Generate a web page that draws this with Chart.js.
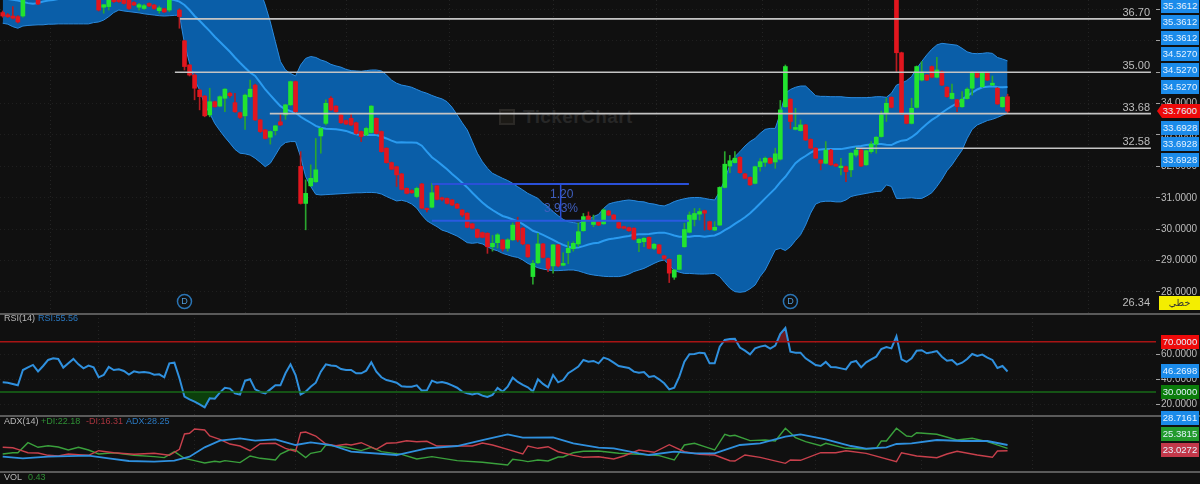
<!DOCTYPE html>
<html lang="en">
<head>
<meta charset="UTF-8">
<title>TickerChart</title>
<script src="https://cdn.jsdelivr.net/npm/chart.js"></script>
<style>
    html, body { margin: 0; padding: 0; background: #101010; }
    #wrap { position: relative; width: 1200px; height: 484px; overflow: hidden; background: #101010; font-family: "Liberation Sans", sans-serif; }
    canvas { position: absolute; left: 0; }
    .sep { position: absolute; left: 0; width: 1200px; height: 2px; background: #5a5a5a; }
    .tag { position: absolute; left: 1161px; width: 38px; height: 14px; line-height: 14px; text-align: center; font-size: 9.5px; color: #e4f2ff; background: #1b8bea; }
    .tag.green { background: #0b7d0b; }
    .tag.dgreen { background: #229a2c; }
    .tag.red { background: #ee0a0a; }
    .tag.crim { background: #c2384a; }
    .lvl { position: absolute; left: 1116px; width: 34px; text-align: right; font-size: 11px; color: #bdbdbd; line-height: 13px; }
    .hd { position: absolute; font-size: 9px; line-height: 10px; color: #b8b8b8; white-space: nowrap; }
    .wm { position: absolute; left: 523px; top: 106px; font-size: 19px; font-weight: bold; color: #272727; letter-spacing: 0.4px; }
    .wmicon { position: absolute; left: 499px; top: 109px; width: 12px; height: 12px; border: 2px solid #2b2926; background: #1c1a16; }
    .fib { position: absolute; font-size: 12px; color: #3f5fc0; line-height: 14px; }
</style>
</head>
<body>
<div id="wrap">
    <div class="wmicon"></div>
    <div class="wm">TickerChart</div>
    <canvas id="mainChart" width="1200" height="313" style="top:0"></canvas>
    <canvas id="rsiChart" width="1200" height="101" style="top:314px"></canvas>
    <canvas id="adxChart" width="1200" height="55" style="top:416px"></canvas>
    <div class="sep" style="top:313px"></div>
    <div class="sep" style="top:415px"></div>
    <div class="sep" style="top:471px"></div>

    <div class="fib" style="left:550px;top:187px">1.20</div>
    <div class="fib" style="left:544px;top:201px">3.93%</div>

    <div class="lvl" style="top:6px">36.70</div>
    <div class="lvl" style="top:59px">35.00</div>
    <div class="lvl" style="top:101px">33.68</div>
    <div class="lvl" style="top:135px">32.58</div>
    <div class="lvl" style="top:296px">26.34</div>

    <div class="tag" style="top:-1px">35.3612</div>
    <div class="tag" style="top:15px">35.3612</div>
    <div class="tag" style="top:31px">35.3612</div>
    <div class="tag" style="top:47px">34.5270</div>
    <div class="tag" style="top:63px">34.5270</div>
    <div class="tag" style="top:80px">34.5270</div>
    <div class="tag red" style="top:104px;left:1157px;width:43px;clip-path:polygon(5px 0,100% 0,100% 100%,5px 100%,0 50%)">&nbsp;33.7600</div>
    <div class="tag" style="top:121px">33.6928</div>
    <div class="tag" style="top:137px">33.6928</div>
    <div class="tag" style="top:153px">33.6928</div>
    <div class="tag" style="top:296px;left:1159px;width:41px;background:#f4ee00;color:#333;font-family:'DejaVu Sans'">خطي</div>
    <div class="tag red" style="top:335px">70.0000</div>
    <div class="tag" style="top:364px">46.2698</div>
    <div class="tag green" style="top:385px">30.0000</div>
    <div class="tag" style="top:411px">28.7161</div>
    <div class="tag dgreen" style="top:427px">25.3815</div>
    <div class="tag crim" style="top:443px">23.0272</div>

    <div class="hd" style="left:4px;top:313px">RSI(14)</div>
    <div class="hd" style="left:38px;top:313px;color:#2a78c0">RSI:55.56</div>
    <div class="hd" style="left:4px;top:416px">ADX(14)</div>
    <div class="hd" style="left:41px;top:416px;color:#2f8f35">+DI:22.18</div>
    <div class="hd" style="left:86px;top:416px;color:#a8343e">-DI:16.31</div>
    <div class="hd" style="left:126px;top:416px;color:#2a78c0">ADX:28.25</div>
    <div class="hd" style="left:4px;top:472px">VOL</div>
    <div class="hd" style="left:28px;top:472px;color:#2f8f35">0.43</div>
</div>

<script>
    const opens = [
        36.90,36.83,36.79,36.77,36.79,37.50,37.60,37.40,37.60,37.70,
        37.80,37.70,37.90,37.80,37.70,37.80,37.60,37.70,37.60,37.35,
        37.07,37.09,37.35,37.34,37.34,37.33,37.22,37.07,37.03,37.19,
        37.14,36.96,37.02,36.98,37.45,36.98,36.00,35.23,34.91,34.43,
        34.24,33.64,34.06,33.92,34.17,34.33,34.03,33.71,33.61,34.22,
        34.59,33.48,33.16,32.93,33.14,33.42,33.64,33.96,34.70,32.00,
        30.82,31.38,31.51,32.97,33.37,34.17,33.92,33.64,33.46,33.53,
        33.39,33.11,33.00,33.08,33.53,33.11,32.58,32.12,31.99,31.76,
        31.30,31.23,31.04,31.44,30.66,30.70,31.38,31.00,30.98,30.93,
        30.80,30.61,30.51,30.17,29.99,29.89,29.87,29.44,29.57,29.66,
        29.39,29.66,30.24,30.03,29.50,28.49,28.93,29.53,29.07,28.83,
        29.50,28.85,29.25,29.38,29.53,29.95,30.42,30.15,30.24,30.17,
        30.58,30.45,30.21,30.08,30.05,30.03,29.57,29.60,29.74,29.39,
        29.50,29.15,29.04,28.47,28.72,29.44,29.90,30.31,30.48,30.59,
        30.24,29.97,30.13,31.33,32.01,32.12,32.29,31.76,31.65,31.46,
        31.99,32.13,32.26,32.14,32.23,33.90,34.14,33.18,33.14,33.32,
        32.86,32.58,32.20,32.10,32.52,32.07,31.96,31.99,31.89,32.36,
        32.52,32.05,32.47,32.71,32.95,33.69,34.20,37.40,35.62,33.64,
        33.37,33.88,34.75,34.91,35.18,34.84,35.02,34.52,34.16,34.12,
        33.90,34.16,34.49,34.99,34.54,34.99,34.59,34.49,33.90,34.22
    ];
    const highs = [
        36.95,36.87,37.09,36.80,37.40,37.80,37.85,37.50,37.85,37.80,
        37.90,37.85,38.00,37.85,37.85,37.90,37.75,37.80,37.70,37.40,
        37.16,37.40,37.40,37.40,37.40,37.40,37.25,37.19,37.16,37.21,
        37.16,37.11,37.04,37.40,37.70,37.02,36.02,35.25,34.95,34.46,
        34.26,34.49,34.08,34.25,34.48,34.36,34.33,33.73,34.30,34.75,
        34.62,33.50,33.18,33.13,33.31,33.70,33.98,34.72,34.72,32.47,
        31.57,32.05,32.89,33.23,34.12,34.22,33.94,33.66,33.48,33.69,
        33.41,33.13,33.25,33.94,33.55,33.13,32.60,32.14,32.01,31.78,
        31.32,31.26,31.34,31.46,30.68,31.46,31.40,31.02,31.00,30.95,
        30.82,30.63,30.53,30.19,30.01,29.91,29.89,29.80,29.86,29.68,
        29.70,30.20,30.38,30.06,29.52,29.00,29.87,29.55,29.09,29.52,
        29.52,29.25,29.60,29.60,30.20,30.50,30.55,30.45,30.26,30.65,
        30.60,30.47,30.23,30.10,30.07,30.05,29.70,29.73,29.76,29.55,
        29.52,29.17,29.06,28.72,29.19,30.19,30.55,30.66,30.66,30.61,
        30.26,30.24,31.35,32.47,32.35,32.47,32.31,31.78,31.67,32.01,
        32.25,32.30,32.28,32.58,34.10,35.23,34.16,33.85,33.48,33.34,
        32.88,32.60,32.22,32.79,32.54,32.09,32.26,32.01,32.44,32.60,
        32.54,32.52,32.79,32.95,33.76,34.17,34.22,37.50,35.64,33.66,
        34.17,35.20,35.34,34.93,35.20,35.47,35.04,34.54,34.62,34.14,
        34.38,34.50,35.02,35.01,35.01,35.01,34.88,34.51,34.22,34.30
    ];
    const lows = [
        36.75,36.74,36.69,36.57,36.75,37.45,37.55,37.15,37.55,37.55,
        37.75,37.65,37.85,37.60,37.65,37.75,37.55,37.65,37.45,36.95,
        36.88,36.98,37.22,37.22,37.17,37.00,37.12,36.98,37.00,37.09,
        37.00,36.88,36.90,36.93,37.40,36.40,35.07,34.88,34.12,33.80,
        33.58,33.58,33.88,33.90,33.74,34.20,33.72,33.52,33.18,34.20,
        33.46,33.08,32.87,32.71,33.00,33.30,33.50,33.94,33.72,30.80,
        29.98,31.36,31.49,32.42,33.32,33.78,33.72,33.37,33.33,33.30,
        33.03,32.79,32.98,33.06,33.03,32.45,32.10,31.89,31.36,31.25,
        31.12,31.14,31.00,30.65,30.55,30.68,30.93,30.90,30.80,30.75,
        30.65,30.40,30.04,30.00,29.72,29.72,29.23,29.30,29.40,29.30,
        29.30,29.64,29.60,29.50,29.10,28.25,28.90,29.08,28.65,28.60,
        28.80,28.83,28.90,29.30,29.45,29.93,30.25,30.08,30.11,30.15,
        30.43,30.29,30.02,30.00,29.93,29.66,29.28,29.44,29.37,29.35,
        29.21,29.02,28.30,28.40,28.70,29.42,29.88,30.10,30.29,29.97,
        29.97,29.95,30.11,31.31,31.80,32.10,31.78,31.60,31.39,31.44,
        31.85,32.00,32.08,31.94,32.20,33.88,33.20,33.16,33.12,32.82,
        32.56,32.24,31.89,32.08,32.03,31.99,31.73,31.51,31.67,32.30,
        31.99,32.03,32.42,32.42,32.93,33.43,33.86,35.02,33.65,33.35,
        33.35,33.86,34.72,34.73,34.82,34.82,34.57,34.20,34.14,33.74,
        33.88,34.14,34.27,34.82,34.52,34.73,34.57,33.97,33.88,33.69
    ];
    const closes = [
        36.79,36.77,36.72,36.60,37.35,37.70,37.75,37.17,37.75,37.60,
        37.85,37.80,37.95,37.65,37.80,37.85,37.70,37.75,37.50,36.98,
        37.15,37.35,37.25,37.25,37.19,37.03,37.14,37.15,37.12,37.11,
        37.03,37.05,36.92,37.35,37.60,36.77,35.18,34.91,34.49,34.22,
        33.61,34.06,33.90,34.22,34.46,34.25,33.74,33.56,34.27,34.46,
        33.48,33.11,32.89,33.11,33.29,33.32,33.96,34.70,33.74,30.82,
        31.14,31.62,31.89,33.21,34.01,33.80,33.74,33.39,33.35,33.32,
        33.05,32.95,33.21,33.92,33.05,32.47,32.12,31.91,31.73,31.27,
        31.14,31.16,31.30,30.67,30.62,31.16,30.95,30.95,30.82,30.77,
        30.67,30.45,30.06,30.03,29.74,29.74,29.44,29.55,29.82,29.37,
        29.66,30.13,29.66,29.53,29.12,28.91,29.53,29.10,28.75,29.50,
        28.83,28.91,29.39,29.55,29.92,30.40,30.27,30.24,30.13,30.61,
        30.45,30.31,30.04,30.03,29.95,29.68,29.68,29.71,29.39,29.52,
        29.23,29.07,28.60,28.70,29.17,29.99,30.45,30.50,30.56,30.51,
        29.99,30.06,31.33,32.07,32.18,32.26,31.80,31.62,31.41,31.99,
        32.15,32.26,32.10,32.40,33.80,35.18,33.43,33.24,33.32,32.84,
        32.58,32.26,32.10,32.52,32.05,32.01,32.01,31.83,32.42,32.52,
        32.01,32.50,32.71,32.93,33.64,34.01,33.88,35.62,33.67,33.37,
        33.85,35.18,35.00,34.75,34.84,35.07,34.59,34.22,34.33,33.90,
        34.14,34.46,34.99,34.84,34.99,34.75,34.65,33.99,34.20,33.76
    ];

    const bandUpper = [
        38.9,38.9,38.8,38.9,38.9,38.8,38.8,38.9,38.9,38.8,
        38.8,38.9,38.9,38.8,38.9,38.9,38.9,38.8,38.9,38.9,
        38.9,38.8,38.8,38.8,38.9,38.9,38.9,38.8,38.8,38.9,
        38.9,38.8,38.9,38.9,38.9,38.8,38.8,38.8,38.8,38.8,
        38.8,38.8,38.8,38.8,38.7,38.7,38.7,38.7,38.6,38.3,
        38.0,37.6,37.14,36.60,35.97,35.34,35.07,34.96,34.88,35.23,
        35.44,35.50,35.47,35.39,35.34,35.25,35.20,35.16,35.09,35.05,
        35.04,35.03,35.05,35.07,35.07,35.04,34.91,34.75,34.65,34.59,
        34.56,34.52,34.45,34.38,34.33,34.26,34.20,34.15,34.06,33.88,
        33.64,33.39,33.16,32.79,32.42,32.15,31.94,31.78,31.70,31.62,
        31.55,31.46,31.35,31.25,31.14,31.06,30.98,30.82,30.72,30.56,
        30.43,30.31,30.24,30.21,30.19,30.24,30.31,30.40,30.47,30.66,
        30.80,30.85,30.88,30.91,30.93,30.91,30.88,30.87,30.82,30.80,
        30.76,30.74,30.80,30.88,30.93,30.97,31.00,31.01,31.01,30.98,
        30.95,30.93,31.20,31.57,32.05,32.31,32.47,32.65,32.79,32.89,
        33.05,33.18,33.21,33.21,33.69,34.33,34.45,34.52,34.56,34.56,
        34.41,34.25,34.23,34.23,34.22,34.22,34.22,34.20,34.19,34.19,
        34.19,34.19,34.20,34.22,34.22,34.20,34.33,34.59,34.65,34.73,
        34.86,35.12,35.34,35.55,35.73,35.87,35.92,35.90,35.88,35.86,
        35.76,35.65,35.60,35.59,35.60,35.62,35.60,35.47,35.42,35.3612
    ];
    const bandMiddle = [
        37.33,37.33,37.31,37.28,37.24,37.20,37.18,37.20,37.25,37.28,
        37.30,37.33,37.38,37.42,37.46,37.50,37.55,37.60,37.65,37.70,
        37.72,37.75,37.75,37.74,37.72,37.70,37.65,37.60,37.55,37.50,
        37.45,37.40,37.36,37.33,37.30,37.25,37.14,36.98,36.79,36.64,
        36.47,36.31,36.13,35.97,35.81,35.65,35.47,35.30,35.14,34.99,
        34.88,34.67,34.45,34.27,34.09,33.92,33.82,33.76,33.71,33.58,
        33.48,33.39,33.29,33.23,33.20,33.19,33.18,33.16,33.13,33.07,
        33.02,33.00,33.00,33.01,33.00,32.95,32.89,32.82,32.76,32.77,
        32.76,32.76,32.75,32.66,32.47,32.29,32.17,32.04,31.91,31.76,
        31.62,31.48,31.33,31.16,31.00,30.85,30.72,30.61,30.51,30.42,
        30.37,30.31,30.25,30.16,30.06,29.95,29.89,29.82,29.74,29.66,
        29.57,29.50,29.44,29.41,29.42,29.46,29.51,29.55,29.57,29.63,
        29.68,29.70,29.73,29.76,29.78,29.82,29.84,29.84,29.85,29.87,
        29.89,29.89,29.85,29.80,29.76,29.76,29.76,29.78,29.78,29.76,
        29.78,29.80,29.87,29.97,30.06,30.17,30.27,30.38,30.51,30.66,
        30.82,30.98,31.14,31.30,31.50,31.67,31.89,32.10,32.23,32.33,
        32.44,32.52,32.54,32.55,32.55,32.55,32.55,32.58,32.61,32.63,
        32.65,32.68,32.70,32.71,32.71,32.69,32.68,32.76,32.82,32.84,
        32.93,33.05,33.21,33.35,33.48,33.58,33.71,33.82,33.92,34.01,
        34.14,34.24,34.35,34.45,34.52,34.54,34.55,34.53,34.52,34.527
    ];
    const bandLower = [
        36.56,36.53,36.45,36.40,36.47,36.49,36.50,36.51,36.51,36.53,
        36.53,36.54,36.54,36.54,36.54,36.54,36.54,36.54,36.58,36.60,
        36.66,36.77,36.90,36.98,36.95,36.93,36.91,36.89,36.86,36.84,
        36.82,36.80,36.79,36.80,36.81,36.82,35.92,35.28,34.75,34.43,
        33.96,33.69,33.37,33.14,32.93,32.74,32.54,32.42,32.40,32.36,
        32.26,32.13,31.99,32.10,32.36,32.63,32.76,32.79,32.79,32.31,
        31.67,31.36,31.11,31.09,31.10,31.11,31.12,31.13,31.14,31.15,
        31.16,31.16,31.17,31.17,31.16,31.12,31.04,30.97,30.90,30.92,
        30.88,30.80,30.67,30.45,30.27,30.17,30.08,29.97,29.92,29.85,
        29.78,29.68,29.57,29.55,29.57,29.53,29.44,29.36,29.31,29.23,
        29.18,29.13,29.10,29.02,28.91,28.84,28.77,28.73,28.70,28.68,
        28.68,28.69,28.70,28.70,28.67,28.62,28.57,28.54,28.52,28.50,
        28.49,28.49,28.49,28.52,28.57,28.65,28.70,28.75,28.83,28.91,
        28.98,29.02,28.86,28.68,28.63,28.59,28.59,28.58,28.57,28.57,
        28.58,28.59,28.49,28.30,28.12,28.01,27.99,28.01,28.10,28.22,
        28.49,28.70,29.02,29.34,29.39,29.32,29.44,29.64,29.82,30.13,
        30.51,30.80,30.87,30.89,30.89,30.87,30.87,30.93,31.04,31.08,
        31.11,31.14,31.17,31.20,31.21,31.41,31.36,30.98,30.98,30.99,
        31.00,30.98,30.98,31.06,31.16,31.36,31.59,31.86,32.05,32.29,
        32.52,32.89,33.18,33.32,33.39,33.46,33.50,33.56,33.63,33.6928
    ];

    const rsiValues = [
        37.7,37.4,36.4,35.3,47.5,49.6,51.5,46.4,50.7,55.5,
        56.8,56.3,49.4,52.8,56.3,52,48.8,51,49.6,41.7,
        43.5,49.9,47.5,48,46.7,43.8,46.4,45.6,45.9,45.4,
        43.8,44.1,41.7,52.8,53.3,40.9,26.3,24.2,22.3,20.2,
        17.8,25,24.7,29.5,33.4,32.7,28.9,27.9,39,40.1,
        32.1,30,28.9,32.1,35.3,35.3,44.9,52,43.5,28.1,
        30.3,34.2,37.4,46.2,52,51,50.7,48.3,47.5,47.5,
        44.9,44.9,47,53.6,46.2,41.7,39.5,38.5,37.4,34.5,
        34.2,34.2,35.3,31.1,31.3,39,37.4,38,36.9,35.3,
        33.4,30.3,28.9,28.1,28.9,27.1,26,27.6,33.2,30.3,
        34.2,41.4,38,35.6,33.7,30.3,40.1,36.4,33.7,43.5,
        37.7,39.5,44.9,47.5,50.2,55.5,54.1,54.7,52.8,
        57.3,56,53.3,50.7,49.9,49.1,46.2,45.4,45.9,41.9,
        42.7,40.1,36.9,32.1,33.4,42.2,54.1,60,60.2,61.3,
        60.8,52.8,52.8,66.1,71.4,72.2,72.4,65.3,62.9,60,
        64.7,66.1,66.9,64.5,66.9,76.2,80.9,62.1,61.3,61.3,
        56.8,54.1,51.5,50.7,53.9,49.9,49.6,48.8,48,53.6,
        54.7,49.6,53.6,56,58.1,64.2,65.8,64.7,74.3,56,
        53.9,56.8,62.9,63.2,60.8,61.6,62.6,58.1,54.9,55.5,
        51.8,53.3,56.3,60.2,58.6,59.7,57.3,55.5,49.1,50.7,46.27
    ];

    // DI / ADX lines were read at their turning points, so each has its own candle numbers
    const plusDiAt = [0,2,3,5,7,9,11,13,15,17,19,22,26,30,32,34,36,38,40,42,43,44,47,49,51,54,55,57,58,60,61,63,64,68,71,73,75,79,82,85,90,95,100,101,103,104,106,108,110,111,113,115,118,122,126,130,133,135,137,139,141,143,144,145,148,151,153,155,157,159,162,163,167,171,173,174,175,177,179,180,181,185,189,192,195,199];
    const plusDi = [19.7,21,21,31,26.4,28,26.7,23.7,26.4,23.7,19.7,21,18.4,17.1,16.1,22.1,15.4,13.1,10.7,12.4,11.7,13.1,11.1,17.7,15.4,13.7,19.7,24.4,23.7,16.1,20.4,22.4,28.7,26.4,23.1,26.4,22.1,19.4,14.7,17.1,13.1,11.4,8.7,14.4,13.1,12.1,13.7,12.7,16.7,16.7,21,22.4,22.7,20.4,19.4,18.1,13.7,28.7,30.4,27.1,23.7,39.4,37.7,38.4,33.1,33.7,32.7,45.4,36.1,32.1,28,30.4,25.4,24.7,25.4,32.7,32.7,45.4,37.7,37.1,41,39.4,33.7,35.4,32.1,25.3815];
    const minusDiAt = [0,2,3,5,7,9,11,13,15,17,19,22,26,30,33,35,36,37,38,40,41,43,45,47,49,51,54,56,58,59,60,62,64,66,68,69,71,74,76,78,80,82,84,86,90,93,95,97,100,103,104,106,108,110,113,115,118,121,123,126,129,132,135,138,141,144,145,147,150,155,156,158,162,165,167,171,177,178,181,185,187,189,193,196,197,199];
    const minusDi = [26.4,26,24.4,21,20.7,18.4,17.7,19.7,19,18.4,23,21,19.4,20.4,18.4,24.4,39.7,40.4,44.7,43.7,37.7,34.4,29.7,27.7,23,30,30.4,25.4,22.4,41,41.7,37.7,29.7,28,29.4,28.7,31,24.4,30.4,31,33,32,32.4,27.7,27.7,27.7,30.7,28.7,24.4,19.7,27.7,25.4,27,22,18.4,16.4,17,14.7,17.7,23.7,21.4,29,22,19.4,18.7,13,12.7,18.7,16.4,10.4,13.7,13.4,21,21,23,20.4,12,21,17.7,16,19.7,22.4,18.7,16.4,22.7,23.0272];
    const adxAt = [0,4,9,17,21,25,30,34,37,40,43,47,50,54,58,61,65,69,78,84,90,95,100,103,109,113,118,121,126,128,133,137,141,146,150,155,158,163,168,171,175,177,180,185,190,195,199];
    const adxLine = [17,15.4,17,18,15.4,12.7,12,13,17,26.4,33,35.4,33,34.4,28.7,31.4,28.7,22,18.7,25.4,27.7,33.7,39.4,36,36.4,30.4,26,25.4,20.4,18.7,22,20.4,20.4,28.7,30.4,37,39.4,34.4,27.7,25,26.4,29.7,30.4,33.7,32.7,32.7,28.7161];

    const priceTicks = [28,29,30,31,32,33,34,35,36,37];
    const rsiTicks = [20,40,60];
    const gridCandles = [19,38,58,78,99,119,140,161,182,204];
    const dividendCandles = [36,156];
    const candleNumbers = opens.map((o, i) => i);

    const BODY_UP = '#22e430', BODY_DOWN = '#e2161e', WICK_UP = '#2aa52e', WICK_DOWN = '#b51c22';
    const X_MIN = -0.535, X_MAX = 228.4;

    function pairs(xs, ys) {
        return xs.map((x, i) => ({ x: x, y: ys[i] }));
    }
    function hLine(from, to, value, color, width, order) {
        return { type: 'line', data: [{ x: from, y: value }, { x: to, y: value }], borderColor: color, borderWidth: width, pointRadius: 0, order: order };
    }
    function sharedX() {
        return {
            type: 'linear', min: X_MIN, max: X_MAX, offset: false,
            afterBuildTicks(axis) { axis.ticks = gridCandles.map(v => ({ value: v })); },
            afterFit(axis) { axis.height = 0; axis.paddingLeft = 0; axis.paddingRight = 0; },
            ticks: { display: false },
            border: { display: false, dash: [1, 3] },
            grid: { color: '#242424', drawTicks: false }
        };
    }
    function priceY(min, max, ticks, showDash) {
        return {
            position: 'right', min: min, max: max,
            afterBuildTicks(axis) { axis.ticks = ticks.map(v => ({ value: v })); },
            // chart.js reserves half a label at each end, the panes here run edge to edge
            afterFit(axis) { axis.width = 44; axis.paddingTop = 0; axis.paddingBottom = 0; },
            ticks: { color: '#bcbcbc', padding: 1, font: { family: 'Liberation Sans', size: 10 }, callback: v => v.toFixed(4), autoSkip: false },
            border: { display: false, dash: [1, 3] },
            grid: { color: '#1f1f1f', tickColor: '#a0a0a0', tickLength: 4, tickBorderDash: [], drawTicks: showDash }
        };
    }
    const baseOptions = {
        responsive: false,
        animation: false,
        layout: { padding: 0 },
        plugins: { legend: { display: false }, tooltip: { enabled: false } }
    };

    const dividendMarks = {
        id: 'dividendMarks',
        afterDatasetsDraw(chart) {
            const c = chart.ctx, y = 301.5;
            dividendCandles.forEach(i => {
                const x = chart.scales.x.getPixelForValue(i);
                c.save();
                c.strokeStyle = '#2a74b4';
                c.lineWidth = 1.5;
                c.beginPath();
                c.arc(x, y, 7, 0, Math.PI * 2);
                c.stroke();
                c.fillStyle = '#4f9ad8';
                c.font = '9px "Liberation Sans"';
                c.textAlign = 'center';
                c.textBaseline = 'middle';
                c.fillText('D', x, y + 0.5);
                c.restore();
            });
        }
    };

    const upBar = (o, i) => closes[i] >= o;

    new Chart(document.getElementById('mainChart'), {
        type: 'bar',
        plugins: [dividendMarks],
        data: {
            labels: candleNumbers,
            datasets: [
                hLine(35.1, 227.4, 36.70, '#c4c4c4', 1.6, 0),
                hLine(34.1, 227.4, 35.00, '#c4c4c4', 1.6, 0),
                hLine(52.9, 227.4, 33.68, '#c4c4c4', 1.6, 0),
                hLine(169, 227.4, 32.58, '#c4c4c4', 1.6, 0),
                hLine(85, 135.9, 31.44, '#2a50d8', 2, 0),
                hLine(85, 135.9, 30.27, '#2a5ae0', 2, 0),
                { type: 'line', data: [{ x: 110.5, y: 31.44 }, { x: 110.5, y: 30.27 }], borderColor: '#2a50d8', borderWidth: 1.5, pointRadius: 0, order: 0 },
                { label: 'body', data: opens.map((o, i) => [o, closes[i]]), backgroundColor: opens.map((o, i) => upBar(o, i) ? BODY_UP : BODY_DOWN), barThickness: 4, grouped: false, order: 1 },
                { label: 'wick', data: lows.map((l, i) => [l, highs[i]]), backgroundColor: opens.map((o, i) => upBar(o, i) ? WICK_UP : WICK_DOWN), barThickness: 1, grouped: false, order: 2 },
                { type: 'line', label: 'mid', data: bandMiddle, borderColor: '#2a9bf0', borderWidth: 2, pointRadius: 0, tension: 0, order: 3 },
                { type: 'line', label: 'lower', data: bandLower, borderColor: '#2a8be0', borderWidth: 1, pointRadius: 0, order: 4 },
                { type: 'line', label: 'upper', data: bandUpper, borderColor: '#2a8be0', borderWidth: 1, pointRadius: 0, backgroundColor: '#0a5ea8', fill: '-1', order: 5 }
            ]
        },
        options: {
            ...baseOptions,
            scales: { x: sharedX(), y: priceY(27.33, 37.3, priceTicks, true) }
        }
    });

    new Chart(document.getElementById('rsiChart'), {
        type: 'line',
        data: {
            labels: candleNumbers,
            datasets: [
                hLine(X_MIN, 228.4, 70, '#a81414', 1.4, 0),
                hLine(X_MIN, 228.4, 30, '#176a17', 1.4, 0),
                { data: rsiValues, borderColor: '#2f90de', borderWidth: 2, pointRadius: 0, order: 1 },
                { data: rsiValues, borderWidth: 0, pointRadius: 0, order: 2, fill: { target: { value: 30 }, above: 'rgba(0,0,0,0)', below: '#0c3f0c' } },
                { data: rsiValues, borderWidth: 0, pointRadius: 0, order: 3, fill: { target: { value: 70 }, above: '#6a1a20', below: 'rgba(0,0,0,0)' } }
            ]
        },
        options: {
            ...baseOptions,
            scales: { x: sharedX(), y: priceY(11.71, 92.03, rsiTicks, true) }
        }
    });

    new Chart(document.getElementById('adxChart'), {
        type: 'line',
        data: {
            datasets: [
                { data: pairs(adxAt, adxLine), borderColor: '#2f90de', borderWidth: 1.8, pointRadius: 0, order: 0 },
                { data: pairs(minusDiAt, minusDi), borderColor: '#c8404c', borderWidth: 1.4, pointRadius: 0, order: 1 },
                { data: pairs(plusDiAt, plusDi), borderColor: '#3aa03c', borderWidth: 1.4, pointRadius: 0, order: 2 }
            ]
        },
        options: {
            ...baseOptions,
            scales: { x: sharedX(), y: { ...priceY(2.72, 57.7, [], false), ticks: { display: false } } }
        }
    });
</script>
</body>
</html>
